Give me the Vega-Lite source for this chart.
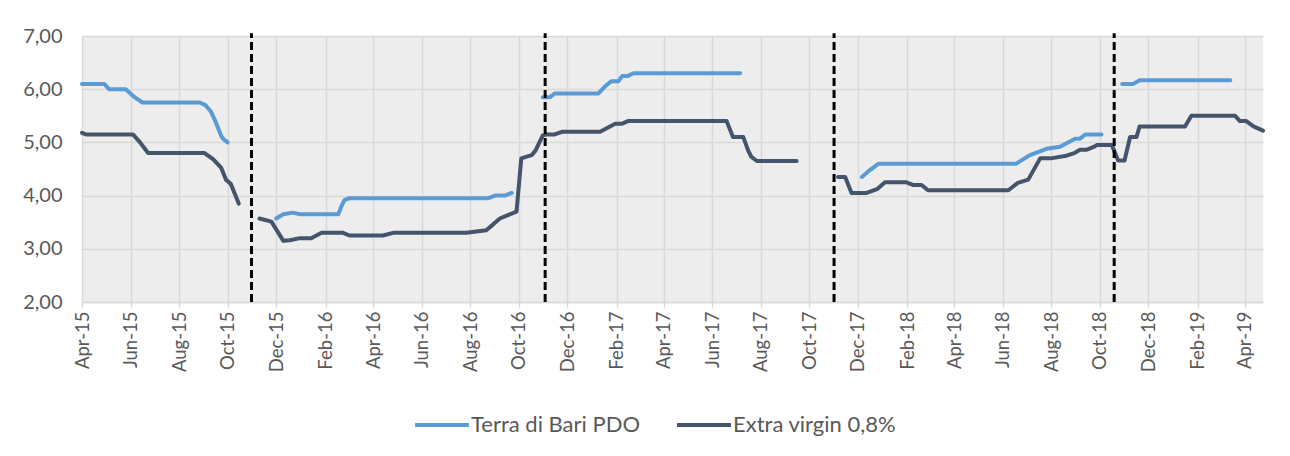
{
  "$schema": "https://vega.github.io/schema/vega-lite/v6.json",
  "width": 1181,
  "height": 266,
  "autosize": {"type": "none"},
  "padding": {"left": 82, "top": 36, "right": 27, "bottom": 154},
  "background": "white",
  "config": {
    "font": "Lato",
    "view": {"stroke": null, "fill": "#EDEDED"},
    "axis": {"labelFont": "Lato", "labelColor": "#595959", "labelFontSize": 18.5, "gridColor": "#D9D9D9", "gridWidth": 1.5, "title": null}
  },
  "datasets": {
    "lines": [
      {"date": "2015-04-01", "price": 6.10, "series": "Terra di Bari PDO", "seg": "T1"},
      {"date": "2015-04-29", "price": 6.10, "series": "Terra di Bari PDO", "seg": "T1"},
      {"date": "2015-05-05", "price": 6.00, "series": "Terra di Bari PDO", "seg": "T1"},
      {"date": "2015-05-26", "price": 6.00, "series": "Terra di Bari PDO", "seg": "T1"},
      {"date": "2015-06-06", "price": 5.85, "series": "Terra di Bari PDO", "seg": "T1"},
      {"date": "2015-06-16", "price": 5.75, "series": "Terra di Bari PDO", "seg": "T1"},
      {"date": "2015-08-27", "price": 5.75, "series": "Terra di Bari PDO", "seg": "T1"},
      {"date": "2015-09-03", "price": 5.70, "series": "Terra di Bari PDO", "seg": "T1"},
      {"date": "2015-09-10", "price": 5.58, "series": "Terra di Bari PDO", "seg": "T1"},
      {"date": "2015-09-15", "price": 5.42, "series": "Terra di Bari PDO", "seg": "T1"},
      {"date": "2015-09-23", "price": 5.12, "series": "Terra di Bari PDO", "seg": "T1"},
      {"date": "2015-09-26", "price": 5.06, "series": "Terra di Bari PDO", "seg": "T1"},
      {"date": "2015-10-01", "price": 5.00, "series": "Terra di Bari PDO", "seg": "T1"},

      {"date": "2015-12-01", "price": 3.57, "series": "Terra di Bari PDO", "seg": "T2"},
      {"date": "2015-12-10", "price": 3.65, "series": "Terra di Bari PDO", "seg": "T2"},
      {"date": "2015-12-22", "price": 3.68, "series": "Terra di Bari PDO", "seg": "T2"},
      {"date": "2015-12-31", "price": 3.65, "series": "Terra di Bari PDO", "seg": "T2"},
      {"date": "2016-02-17", "price": 3.65, "series": "Terra di Bari PDO", "seg": "T2"},
      {"date": "2016-02-21", "price": 3.80, "series": "Terra di Bari PDO", "seg": "T2"},
      {"date": "2016-02-25", "price": 3.92, "series": "Terra di Bari PDO", "seg": "T2"},
      {"date": "2016-03-02", "price": 3.95, "series": "Terra di Bari PDO", "seg": "T2"},
      {"date": "2016-08-23", "price": 3.95, "series": "Terra di Bari PDO", "seg": "T2"},
      {"date": "2016-09-01", "price": 4.00, "series": "Terra di Bari PDO", "seg": "T2"},
      {"date": "2016-09-13", "price": 4.00, "series": "Terra di Bari PDO", "seg": "T2"},
      {"date": "2016-09-22", "price": 4.05, "series": "Terra di Bari PDO", "seg": "T2"},

      {"date": "2016-10-31", "price": 5.85, "series": "Terra di Bari PDO", "seg": "T3"},
      {"date": "2016-11-09", "price": 5.85, "series": "Terra di Bari PDO", "seg": "T3"},
      {"date": "2016-11-15", "price": 5.92, "series": "Terra di Bari PDO", "seg": "T3"},
      {"date": "2017-01-09", "price": 5.92, "series": "Terra di Bari PDO", "seg": "T3"},
      {"date": "2017-01-17", "price": 6.05, "series": "Terra di Bari PDO", "seg": "T3"},
      {"date": "2017-01-25", "price": 6.15, "series": "Terra di Bari PDO", "seg": "T3"},
      {"date": "2017-02-03", "price": 6.15, "series": "Terra di Bari PDO", "seg": "T3"},
      {"date": "2017-02-08", "price": 6.25, "series": "Terra di Bari PDO", "seg": "T3"},
      {"date": "2017-02-15", "price": 6.25, "series": "Terra di Bari PDO", "seg": "T3"},
      {"date": "2017-02-22", "price": 6.30, "series": "Terra di Bari PDO", "seg": "T3"},
      {"date": "2017-07-06", "price": 6.30, "series": "Terra di Bari PDO", "seg": "T3"},

      {"date": "2017-12-06", "price": 4.35, "series": "Terra di Bari PDO", "seg": "T4"},
      {"date": "2017-12-16", "price": 4.48, "series": "Terra di Bari PDO", "seg": "T4"},
      {"date": "2017-12-27", "price": 4.60, "series": "Terra di Bari PDO", "seg": "T4"},
      {"date": "2018-06-18", "price": 4.60, "series": "Terra di Bari PDO", "seg": "T4"},
      {"date": "2018-07-05", "price": 4.76, "series": "Terra di Bari PDO", "seg": "T4"},
      {"date": "2018-07-26", "price": 4.88, "series": "Terra di Bari PDO", "seg": "T4"},
      {"date": "2018-08-12", "price": 4.92, "series": "Terra di Bari PDO", "seg": "T4"},
      {"date": "2018-08-22", "price": 5.00, "series": "Terra di Bari PDO", "seg": "T4"},
      {"date": "2018-08-31", "price": 5.07, "series": "Terra di Bari PDO", "seg": "T4"},
      {"date": "2018-09-06", "price": 5.07, "series": "Terra di Bari PDO", "seg": "T4"},
      {"date": "2018-09-13", "price": 5.15, "series": "Terra di Bari PDO", "seg": "T4"},
      {"date": "2018-10-03", "price": 5.15, "series": "Terra di Bari PDO", "seg": "T4"},

      {"date": "2018-10-29", "price": 6.10, "series": "Terra di Bari PDO", "seg": "T5"},
      {"date": "2018-11-12", "price": 6.10, "series": "Terra di Bari PDO", "seg": "T5"},
      {"date": "2018-11-20", "price": 6.17, "series": "Terra di Bari PDO", "seg": "T5"},
      {"date": "2019-03-14", "price": 6.17, "series": "Terra di Bari PDO", "seg": "T5"},

      {"date": "2015-04-01", "price": 5.18, "series": "Extra virgin 0,8%", "seg": "E1"},
      {"date": "2015-04-06", "price": 5.15, "series": "Extra virgin 0,8%", "seg": "E1"},
      {"date": "2015-06-04", "price": 5.15, "series": "Extra virgin 0,8%", "seg": "E1"},
      {"date": "2015-06-13", "price": 5.00, "series": "Extra virgin 0,8%", "seg": "E1"},
      {"date": "2015-06-23", "price": 4.80, "series": "Extra virgin 0,8%", "seg": "E1"},
      {"date": "2015-09-02", "price": 4.80, "series": "Extra virgin 0,8%", "seg": "E1"},
      {"date": "2015-09-13", "price": 4.68, "series": "Extra virgin 0,8%", "seg": "E1"},
      {"date": "2015-09-23", "price": 4.52, "series": "Extra virgin 0,8%", "seg": "E1"},
      {"date": "2015-09-29", "price": 4.30, "series": "Extra virgin 0,8%", "seg": "E1"},
      {"date": "2015-10-05", "price": 4.22, "series": "Extra virgin 0,8%", "seg": "E1"},
      {"date": "2015-10-15", "price": 3.85, "series": "Extra virgin 0,8%", "seg": "E1"},

      {"date": "2015-11-10", "price": 3.57, "series": "Extra virgin 0,8%", "seg": "E2"},
      {"date": "2015-11-25", "price": 3.51, "series": "Extra virgin 0,8%", "seg": "E2"},
      {"date": "2015-12-10", "price": 3.15, "series": "Extra virgin 0,8%", "seg": "E2"},
      {"date": "2015-12-18", "price": 3.16, "series": "Extra virgin 0,8%", "seg": "E2"},
      {"date": "2015-12-31", "price": 3.20, "series": "Extra virgin 0,8%", "seg": "E2"},
      {"date": "2016-01-14", "price": 3.20, "series": "Extra virgin 0,8%", "seg": "E2"},
      {"date": "2016-01-27", "price": 3.30, "series": "Extra virgin 0,8%", "seg": "E2"},
      {"date": "2016-02-23", "price": 3.30, "series": "Extra virgin 0,8%", "seg": "E2"},
      {"date": "2016-03-02", "price": 3.25, "series": "Extra virgin 0,8%", "seg": "E2"},
      {"date": "2016-04-13", "price": 3.25, "series": "Extra virgin 0,8%", "seg": "E2"},
      {"date": "2016-04-26", "price": 3.30, "series": "Extra virgin 0,8%", "seg": "E2"},
      {"date": "2016-07-27", "price": 3.30, "series": "Extra virgin 0,8%", "seg": "E2"},
      {"date": "2016-08-21", "price": 3.35, "series": "Extra virgin 0,8%", "seg": "E2"},
      {"date": "2016-08-29", "price": 3.45, "series": "Extra virgin 0,8%", "seg": "E2"},
      {"date": "2016-09-07", "price": 3.57, "series": "Extra virgin 0,8%", "seg": "E2"},
      {"date": "2016-09-28", "price": 3.70, "series": "Extra virgin 0,8%", "seg": "E2"},
      {"date": "2016-10-04", "price": 4.70, "series": "Extra virgin 0,8%", "seg": "E2"},
      {"date": "2016-10-17", "price": 4.76, "series": "Extra virgin 0,8%", "seg": "E2"},
      {"date": "2016-10-22", "price": 4.85, "series": "Extra virgin 0,8%", "seg": "E2"},
      {"date": "2016-10-31", "price": 5.13, "series": "Extra virgin 0,8%", "seg": "E2"},
      {"date": "2016-11-05", "price": 5.15, "series": "Extra virgin 0,8%", "seg": "E2"},
      {"date": "2016-11-15", "price": 5.15, "series": "Extra virgin 0,8%", "seg": "E2"},
      {"date": "2016-11-24", "price": 5.20, "series": "Extra virgin 0,8%", "seg": "E2"},
      {"date": "2017-01-11", "price": 5.20, "series": "Extra virgin 0,8%", "seg": "E2"},
      {"date": "2017-01-30", "price": 5.35, "series": "Extra virgin 0,8%", "seg": "E2"},
      {"date": "2017-02-07", "price": 5.35, "series": "Extra virgin 0,8%", "seg": "E2"},
      {"date": "2017-02-15", "price": 5.40, "series": "Extra virgin 0,8%", "seg": "E2"},
      {"date": "2017-06-19", "price": 5.40, "series": "Extra virgin 0,8%", "seg": "E2"},
      {"date": "2017-06-27", "price": 5.10, "series": "Extra virgin 0,8%", "seg": "E2"},
      {"date": "2017-07-10", "price": 5.10, "series": "Extra virgin 0,8%", "seg": "E2"},
      {"date": "2017-07-16", "price": 4.85, "series": "Extra virgin 0,8%", "seg": "E2"},
      {"date": "2017-07-20", "price": 4.73, "series": "Extra virgin 0,8%", "seg": "E2"},
      {"date": "2017-07-27", "price": 4.65, "series": "Extra virgin 0,8%", "seg": "E2"},
      {"date": "2017-09-15", "price": 4.65, "series": "Extra virgin 0,8%", "seg": "E2"},

      {"date": "2017-11-06", "price": 4.35, "series": "Extra virgin 0,8%", "seg": "E3"},
      {"date": "2017-11-15", "price": 4.35, "series": "Extra virgin 0,8%", "seg": "E3"},
      {"date": "2017-11-23", "price": 4.05, "series": "Extra virgin 0,8%", "seg": "E3"},
      {"date": "2017-12-12", "price": 4.05, "series": "Extra virgin 0,8%", "seg": "E3"},
      {"date": "2017-12-25", "price": 4.12, "series": "Extra virgin 0,8%", "seg": "E3"},
      {"date": "2018-01-04", "price": 4.25, "series": "Extra virgin 0,8%", "seg": "E3"},
      {"date": "2018-01-31", "price": 4.25, "series": "Extra virgin 0,8%", "seg": "E3"},
      {"date": "2018-02-08", "price": 4.20, "series": "Extra virgin 0,8%", "seg": "E3"},
      {"date": "2018-02-19", "price": 4.20, "series": "Extra virgin 0,8%", "seg": "E3"},
      {"date": "2018-02-27", "price": 4.10, "series": "Extra virgin 0,8%", "seg": "E3"},
      {"date": "2018-06-08", "price": 4.10, "series": "Extra virgin 0,8%", "seg": "E3"},
      {"date": "2018-06-20", "price": 4.24, "series": "Extra virgin 0,8%", "seg": "E3"},
      {"date": "2018-07-03", "price": 4.30, "series": "Extra virgin 0,8%", "seg": "E3"},
      {"date": "2018-07-18", "price": 4.70, "series": "Extra virgin 0,8%", "seg": "E3"},
      {"date": "2018-07-31", "price": 4.70, "series": "Extra virgin 0,8%", "seg": "E3"},
      {"date": "2018-08-20", "price": 4.75, "series": "Extra virgin 0,8%", "seg": "E3"},
      {"date": "2018-08-30", "price": 4.80, "series": "Extra virgin 0,8%", "seg": "E3"},
      {"date": "2018-09-06", "price": 4.86, "series": "Extra virgin 0,8%", "seg": "E3"},
      {"date": "2018-09-14", "price": 4.86, "series": "Extra virgin 0,8%", "seg": "E3"},
      {"date": "2018-09-24", "price": 4.92, "series": "Extra virgin 0,8%", "seg": "E3"},
      {"date": "2018-09-27", "price": 4.95, "series": "Extra virgin 0,8%", "seg": "E3"},
      {"date": "2018-10-16", "price": 4.95, "series": "Extra virgin 0,8%", "seg": "E3"},
      {"date": "2018-10-24", "price": 4.66, "series": "Extra virgin 0,8%", "seg": "E3"},
      {"date": "2018-11-01", "price": 4.66, "series": "Extra virgin 0,8%", "seg": "E3"},
      {"date": "2018-11-08", "price": 5.10, "series": "Extra virgin 0,8%", "seg": "E3"},
      {"date": "2018-11-16", "price": 5.10, "series": "Extra virgin 0,8%", "seg": "E3"},
      {"date": "2018-11-20", "price": 5.30, "series": "Extra virgin 0,8%", "seg": "E3"},
      {"date": "2019-01-16", "price": 5.30, "series": "Extra virgin 0,8%", "seg": "E3"},
      {"date": "2019-01-24", "price": 5.50, "series": "Extra virgin 0,8%", "seg": "E3"},
      {"date": "2019-03-20", "price": 5.50, "series": "Extra virgin 0,8%", "seg": "E3"},
      {"date": "2019-03-26", "price": 5.40, "series": "Extra virgin 0,8%", "seg": "E3"},
      {"date": "2019-04-03", "price": 5.40, "series": "Extra virgin 0,8%", "seg": "E3"},
      {"date": "2019-04-12", "price": 5.30, "series": "Extra virgin 0,8%", "seg": "E3"},
      {"date": "2019-04-24", "price": 5.22, "series": "Extra virgin 0,8%", "seg": "E3"}
    ],
    "cuts": [
      {"date": "2015-10-31"},
      {"date": "2016-11-03"},
      {"date": "2017-11-01"},
      {"date": "2018-10-19"}
    ]
  },
  "layer": [
    {
      "data": {"name": "lines"},
      "mark": {"type": "line", "strokeWidth": 4, "strokeCap": "round", "strokeJoin": "round"},
      "encoding": {
        "x": {
          "field": "date", "type": "temporal",
          "scale": {"type": "utc", "domain": [{"year": 2015, "month": 4, "date": 1, "utc": true}, {"year": 2019, "month": 4, "date": 24, "utc": true}]},
          "axis": {
            "labelExpr": "utcFormat(datum.value, '%b-%y')", "labelAngle": -90, "labelPadding": 4,
            "values": [
              {"year": 2015, "month": 4, "date": 1, "utc": true}, {"year": 2015, "month": 6, "date": 1, "utc": true},
              {"year": 2015, "month": 8, "date": 1, "utc": true}, {"year": 2015, "month": 10, "date": 1, "utc": true},
              {"year": 2015, "month": 12, "date": 1, "utc": true}, {"year": 2016, "month": 2, "date": 1, "utc": true},
              {"year": 2016, "month": 4, "date": 1, "utc": true}, {"year": 2016, "month": 6, "date": 1, "utc": true},
              {"year": 2016, "month": 8, "date": 1, "utc": true}, {"year": 2016, "month": 10, "date": 1, "utc": true},
              {"year": 2016, "month": 12, "date": 1, "utc": true}, {"year": 2017, "month": 2, "date": 1, "utc": true},
              {"year": 2017, "month": 4, "date": 1, "utc": true}, {"year": 2017, "month": 6, "date": 1, "utc": true},
              {"year": 2017, "month": 8, "date": 1, "utc": true}, {"year": 2017, "month": 10, "date": 1, "utc": true},
              {"year": 2017, "month": 12, "date": 1, "utc": true}, {"year": 2018, "month": 2, "date": 1, "utc": true},
              {"year": 2018, "month": 4, "date": 1, "utc": true}, {"year": 2018, "month": 6, "date": 1, "utc": true},
              {"year": 2018, "month": 8, "date": 1, "utc": true}, {"year": 2018, "month": 10, "date": 1, "utc": true},
              {"year": 2018, "month": 12, "date": 1, "utc": true}, {"year": 2019, "month": 2, "date": 1, "utc": true},
              {"year": 2019, "month": 4, "date": 1, "utc": true}
            ],
            "grid": true, "domainColor": "#D9D9D9", "domainWidth": 1.5, "tickColor": "#D9D9D9", "tickWidth": 1.5, "tickSize": 5
          }
        },
        "y": {
          "field": "price", "type": "quantitative",
          "scale": {"domain": [2, 7], "nice": false, "zero": false},
          "axis": {
            "values": [2, 2.5, 3, 3.5, 4, 4.5, 5, 5.5, 6, 6.5, 7],
            "labelExpr": "replace(format(datum.value, '.2f'), '.', ',')",
            "domain": false, "ticks": false, "labelPadding": 20, "grid": true, "labelFontSize": 20
          }
        },
        "color": {
          "field": "series", "type": "nominal",
          "scale": {"domain": ["Terra di Bari PDO", "Extra virgin 0,8%"], "range": ["#5B9BD5", "#44546A"]},
          "legend": {
            "title": null, "orient": "none", "legendX": 331, "legendY": 360, "direction": "horizontal",
            "symbolType": "stroke", "symbolSize": 2900, "symbolStrokeWidth": 4,
            "labelFont": "Lato", "labelFontSize": 22, "labelColor": "#595959", "labelOffset": 0, "labelLimit": 400, "columnPadding": 28
          }
        },
        "detail": {"field": "seg", "type": "nominal"}
      }
    },
    {
      "data": {"name": "cuts"},
      "mark": {"type": "rule", "color": "black", "strokeWidth": 3, "strokeDash": [8, 4]},
      "encoding": {
        "x": {"field": "date", "type": "temporal"},
        "y": {"datum": 2},
        "y2": {"datum": 7.05}
      }
    }
  ]
}
